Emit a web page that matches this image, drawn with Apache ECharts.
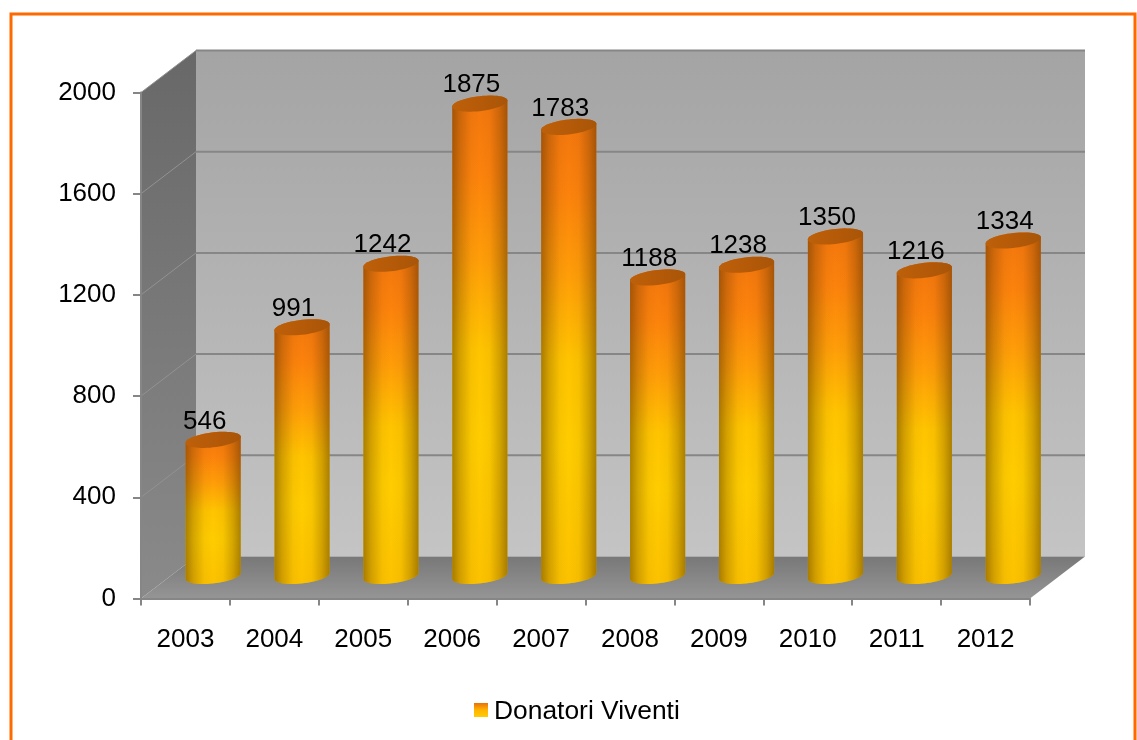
<!DOCTYPE html>
<html>
<head>
<meta charset="utf-8">
<style>html,body{margin:0;padding:0;background:#fff;overflow:hidden}#c{width:1137px;height:740px}</style>
<script src="https://cdn.jsdelivr.net/npm/echarts@6/dist/echarts.min.js"></script>
</head>
<body>
<div id="c"></div>
<script>
const categories = ['2003','2004','2005','2006','2007','2008','2009','2010','2011','2012'];
const donatoriViventi = [546,991,1242,1875,1783,1188,1238,1350,1216,1334];
const yTicks = [0,400,800,1200,1600,2000];
const seriesName = 'Donatori Viventi';

const FONT = '"Liberation Sans", Arial, sans-serif';
const DEPTH_X = 55, DEPTH_Y = -42;      // full depth of the 3D box
const BAR_DX = 27.7, BAR_DY = -20.5;    // bars stand mid-depth
const RX = 27.6, RY = 7.5, TILT = 0.11; // cylinder cap ellipse

const G = (x1,y1,x2,y2,stops) => new echarts.graphic.LinearGradient(x1,y1,x2,y2,
  stops.map(s => ({offset:s[0], color:s[1]})));
const barFill = () => G(0,0,0,1,[[0,'#f2760e'],[0.16,'#fc820c'],[0.34,'#ff9e08'],[0.52,'#ffc400'],[0.7,'#ffcc00'],[1,'#fcc200']]);

function ellipsePts(cx, cy, from, to, n) {
  const pts = [];
  for (let i = 0; i <= n; i++) {
    const t = from + (to - from) * i / n;
    pts.push([cx + RX * Math.cos(t), cy - RX * TILT * Math.cos(t) + RY * Math.sin(t)]);
  }
  return pts;
}

function renderBackdrop(params, api) {
  const cs = params.coordSys;
  const L = cs.x, R = cs.x + cs.width;
  const T = api.coord([0, 2000])[1], B = api.coord([0, 0])[1];
  const kids = [
    {type:'polygon', shape:{points:[[L+DEPTH_X,T+DEPTH_Y],[R+DEPTH_X,T+DEPTH_Y],[R+DEPTH_X,B+DEPTH_Y],[L+DEPTH_X,B+DEPTH_Y]]},
      style:{fill:G(0,0,0,1,[[0,'#a4a4a4'],[1,'#c4c4c4']])}},
    {type:'polygon', shape:{points:[[L,T],[L+DEPTH_X,T+DEPTH_Y],[L+DEPTH_X,B+DEPTH_Y],[L,B]]},
      style:{fill:G(0,0,0,1,[[0,'#686868'],[1,'#8a8a8a']])}},
    {type:'polygon', shape:{points:[[L,B],[R,B],[R+DEPTH_X,B+DEPTH_Y],[L+DEPTH_X,B+DEPTH_Y]]},
      style:{fill:G(0,0,0,1,[[0,'#787878'],[1,'#959595']])}}
  ];
  yTicks.forEach(v => {
    const y = api.coord([0, v])[1];
    if (v > 0) {
      kids.push({type:'line', shape:{x1:L+DEPTH_X,y1:y+DEPTH_Y,x2:R+DEPTH_X,y2:y+DEPTH_Y},
        style:{stroke:'#868686', lineWidth:2}});
      kids.push({type:'line', shape:{x1:L,y1:y,x2:L+DEPTH_X,y2:y+DEPTH_Y},
        style:{stroke:'#929292', lineWidth:1}});
    }
  });
  return {type:'group', children:kids};
}

function renderCylinder(params, api) {
  const top = api.coord([api.value(0), api.value(1)]);
  const base = api.coord([api.value(0), 0]);
  const cx = top[0] + BAR_DX, ty = top[1] + BAR_DY, by = base[1] + BAR_DY - 2;
  const lower = ellipsePts(cx, by, Math.PI, 0, 28);   // front of the base, left to right
  const upper = ellipsePts(cx, ty, 0, -Math.PI, 28);  // back of the cap, right to left
  const body = lower.concat(upper);
  const cap = ellipsePts(cx, ty, 0, Math.PI * 2, 56);
  return {type:'group', children:[
    {type:'polygon', shape:{points:body}, style:{fill:barFill()}},
    {type:'polygon', shape:{points:body}, style:{fill:G(0,0,1,0,[
      [0,'rgba(70,40,0,0.46)'],[0.14,'rgba(70,40,0,0.24)'],[0.34,'rgba(70,40,0,0.04)'],[0.5,'rgba(70,40,0,0)'],
      [0.68,'rgba(70,40,0,0.04)'],[0.86,'rgba(70,40,0,0.24)'],[1,'rgba(70,40,0,0.46)']])}},
    {type:'polygon', shape:{points:cap}, style:{fill:G(0,0,1,0,[[0,'#bd600a'],[0.5,'#b55a08'],[1,'#a85508']])}},
    {type:'text', style:{x:cx-8.5, y:ty-18.5, text:String(api.value(1)), font:'26px '+FONT,
      fill:'#000', align:'center', verticalAlign:'middle'}}
  ]};
}

const chart = echarts.init(document.getElementById('c'), null, {renderer:'canvas'});
chart.setOption({
  animation:false,
  backgroundColor:'#ffffff',
  textStyle:{fontFamily:FONT},
  graphic:[{type:'rect', z:0, silent:true, shape:{x:11,y:14,width:1124,height:740},
    style:{fill:'none', stroke:'#ff6a00', lineWidth:3}}],
  grid:{left:141, top:92.5, width:889, height:506, containLabel:false},
  legend:{
    data:[{name:seriesName, icon:'rect', itemStyle:{color:G(0,0,0,1,[[0,'#e8700c'],[0.5,'#ffb400'],[1,'#ffcc00'] ])}}],
    left:469, top:694, itemWidth:14, itemHeight:14,
    selectedMode:false,
    formatter:'{t|{name}}',
    textStyle:{fontSize:26.4, color:'#000', fontFamily:FONT,
      rich:{t:{fontSize:26.4, color:'#000', fontFamily:FONT, padding:[4,0,0,1]}}}
  },
  xAxis:{
    type:'category', data:categories, z:5,
    axisLine:{lineStyle:{color:'#868686', width:2}},
    axisTick:{show:true, length:7, lineStyle:{color:'#868686', width:2}},
    axisLabel:{fontSize:26, color:'#000', margin:28.5, fontFamily:FONT, interval:0}
  },
  yAxis:{
    type:'value', min:0, max:2000, interval:400, z:5,
    axisLine:{show:true, lineStyle:{color:'#868686', width:2}},
    axisTick:{show:true, length:8, lineStyle:{color:'#868686', width:2}},
    axisLabel:{fontSize:26, color:'#000', margin:25, fontFamily:FONT, padding:[4,0,0,0], formatter:v=>String(v)},
    splitLine:{show:false}
  },
  series:[
    {type:'custom', name:'backdrop', silent:true, z:1, renderItem:renderBackdrop, data:[[0,0]],
      encode:{x:0,y:1}, tooltip:{show:false}},
    {type:'custom', name:seriesName, z:3, renderItem:renderCylinder,
      itemStyle:{color:'#ff9c08'},
      data:categories.map((c,i)=>[i, donatoriViventi[i]]), encode:{x:0,y:1}}
  ]
});
</script>
</body>
</html>
